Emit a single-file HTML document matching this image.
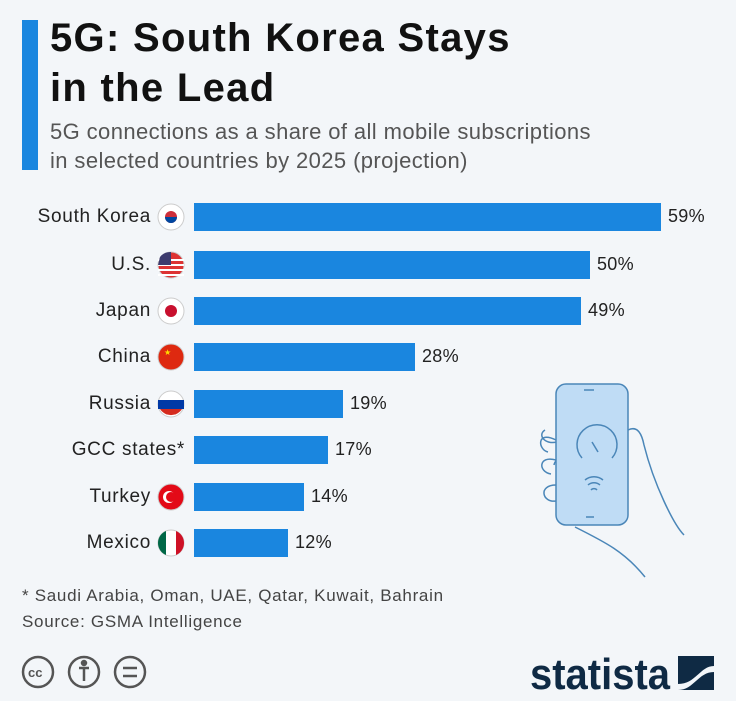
<!DOCTYPE html>
<html><head><style>
body{margin:0;width:736px;height:701px;background:#f3f6f9;font-family:"Liberation Sans",sans-serif;position:relative;overflow:hidden}
.a{position:absolute}
.t{left:50px;top:13px;font-size:40px;font-weight:bold;color:#111;line-height:50px;letter-spacing:1.3px}
.s{left:50px;top:117px;font-size:22px;color:#555;line-height:29px;letter-spacing:0.4px}
.lab{position:absolute;right:585px;font-size:19px;color:#222;letter-spacing:0.7px}
.bar{position:absolute;left:194px;height:28px;background:#1a86df}
.v{position:absolute;font-size:18px;color:#222;letter-spacing:0.3px}
.f{position:absolute;left:22px;font-size:17px;color:#444;letter-spacing:0.7px}
</style></head><body>
<div class="a" style="left:22px;top:20px;width:16px;height:150px;background:#1a86df"></div>
<div class="a t">5G: South Korea Stays<br>in the Lead</div>
<div class="a s">5G connections as a share of all mobile subscriptions<br>in selected countries by 2025 (projection)</div>

<div class="lab" style="top:206px">South Korea</div><div class="bar" style="top:203px;width:467px"></div><div class="v" style="left:668px;top:206px">59%</div>
<div class="lab" style="top:254px">U.S.</div><div class="bar" style="top:251px;width:396px"></div><div class="v" style="left:597px;top:254px">50%</div>
<div class="lab" style="top:300px">Japan</div><div class="bar" style="top:297px;width:387px"></div><div class="v" style="left:588px;top:300px">49%</div>
<div class="lab" style="top:346px">China</div><div class="bar" style="top:343px;width:221px"></div><div class="v" style="left:422px;top:346px">28%</div>
<div class="lab" style="top:393px">Russia</div><div class="bar" style="top:390px;width:149px"></div><div class="v" style="left:350px;top:393px">19%</div>
<div class="lab" style="top:439px;right:551px">GCC states*</div><div class="bar" style="top:436px;width:134px"></div><div class="v" style="left:335px;top:439px">17%</div>
<div class="lab" style="top:486px">Turkey</div><div class="bar" style="top:483px;width:110px"></div><div class="v" style="left:311px;top:486px">14%</div>
<div class="lab" style="top:532px">Mexico</div><div class="bar" style="top:529px;width:94px"></div><div class="v" style="left:295px;top:532px">12%</div>

<svg class="a" style="left:0;top:0" width="736" height="701">
<g stroke="#ccc" stroke-width="1">
<circle cx="171" cy="217" r="13" fill="#fff"/><circle cx="171" cy="217" r="6" fill="#cd2e3a" stroke="none"/><path d="M165 217a6 6 0 0 0 12 0z" fill="#0047a0" stroke="none"/>
<circle cx="171" cy="265" r="13" fill="#d33"/><path d="M158 260h26M158 265h26M158 270h26M158 275h26" stroke="#fff" stroke-width="2"/><path d="M160 257a13 13 0 0 1 11-5v13h-13z" fill="#3c3b6e" stroke="none"/>
<circle cx="171" cy="311" r="13" fill="#fff"/><circle cx="171" cy="311" r="6" fill="#c8102e" stroke="none"/>
<circle cx="171" cy="357" r="13" fill="#de2910"/><text x="164" y="355" font-size="8" fill="#ffde00" stroke="none">★</text>
<circle cx="171" cy="404" r="13" fill="#fff"/><path d="M158 400h26v9h-26z" fill="#0039a6" stroke="none"/><path d="M160 409h22a13 13 0 0 1-22 0z" fill="#d52b1e" stroke="none"/>
<circle cx="171" cy="497" r="13" fill="#e30a17"/><circle cx="169" cy="497" r="6" fill="#fff" stroke="none"/><circle cx="171" cy="497" r="5" fill="#e30a17" stroke="none"/>
<circle cx="171" cy="543" r="13" fill="#fff"/><path d="M166 531a13 13 0 0 0 0 24z" fill="#006847" stroke="none"/><path d="M176 531a13 13 0 0 1 0 24z" fill="#ce1126" stroke="none"/>
</g>
<g fill="none" stroke="#4a86b8" stroke-width="1.5">
<path d="M574 457c-18 -4-20 8-20 8M545 430c-8 5 0 15 12 12"/>
<rect x="556" y="384" width="72" height="141" rx="10" fill="#bfdcf5"/>
<path d="M584 390h10M586 517h8"/>
<path d="M582 458a20 20 0 1 1 30 0" /><path d="M592 442l6 10"/>
<path d="M585 480a14 14 0 0 1 18 0M588 485a9 9 0 0 1 12 0M591 490a4 4 0 0 1 6 0"/>
<path d="M628 430c10-5 14 5 16 15 10 40 30 80 40 90M575 527c30 15 50 25 70 50"/>
<path d="M556 440c-20-10-18 10-8 12M556 460c-18-5-18 12-5 14M556 485c-18 0-14 18 0 16"/>
</g>
<g fill="none" stroke="#555" stroke-width="2.5">
<circle cx="38" cy="672" r="15"/><circle cx="84" cy="672" r="15"/><circle cx="130" cy="672" r="15"/>
<path d="M123 668h14M123 676h14"/><circle cx="84" cy="663" r="2" fill="#555"/><path d="M84 667v14M79 668h10"/>
</g>
<text x="28" y="677" font-size="13" font-weight="bold" fill="#555" font-family="Liberation Sans">cc</text>
<text x="530" y="689" font-size="44" font-weight="bold" fill="#0f2a44" font-family="Liberation Sans" textLength="140" lengthAdjust="spacingAndGlyphs">statista</text>
<path d="M678 656h36v10c-14 0-18 18-36 18z M678 690c16 0 20-18 36-18v18z" fill="#0f2a44"/>
</svg>
<div class="f" style="top:586px">* Saudi Arabia, Oman, UAE, Qatar, Kuwait, Bahrain</div>
<div class="f" style="top:612px">Source: GSMA Intelligence</div>
</body></html>
